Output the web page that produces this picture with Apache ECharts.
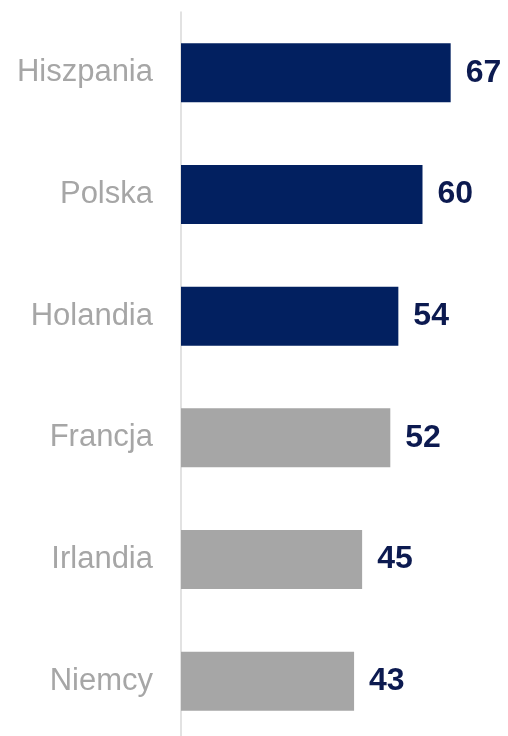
<!DOCTYPE html>
<html>
<head>
<meta charset="utf-8">
<style>html,body{margin:0;padding:0;background:#fff;overflow:hidden;height:736px;}#c{width:508px;height:742px;}</style>
<script src="https://cdn.jsdelivr.net/npm/echarts@6/dist/echarts.min.js"></script>
</head>
<body>
<div id="c"></div>
<script>
const categories = ["Hiszpania", "Polska", "Holandia", "Francja", "Irlandia", "Niemcy"];
const values = [67, 60, 54, 52, 45, 43];
const highlighted = [true, true, true, false, false, false];

const NAVY = "#022060";
const GRAY = "#A6A6A6";
const chart = echarts.init(document.getElementById("c"));
chart.setOption({
  animation: false,
  grid: { left: 181, top: 12, width: 322, bottom: 0, containLabel: false },
  xAxis: { type: "value", min: 0, max: 80, show: false },
  yAxis: {
    type: "category",
    data: categories,
    inverse: true,
    axisLine: { show: true, lineStyle: { color: "#D9D9D9", width: 1.5 } },
    axisTick: { show: false },
    axisLabel: { color: "#A6A6A6", fontSize: 31, fontFamily: "Liberation Sans, Arial, sans-serif", margin: 28 },
    splitLine: { show: false }
  },
  series: [{
    type: "bar",
    barWidth: 59,
    data: values.map((v, i) => ({ value: v, itemStyle: { color: highlighted[i] ? NAVY : GRAY } })),
    label: {
      show: true,
      position: "right",
      distance: 15,
      color: "#0C1A50",
      fontSize: 32,
      fontWeight: "bold",
      fontFamily: "Liberation Sans, Arial, sans-serif"
    }
  }]
});
</script>
</body>
</html>
